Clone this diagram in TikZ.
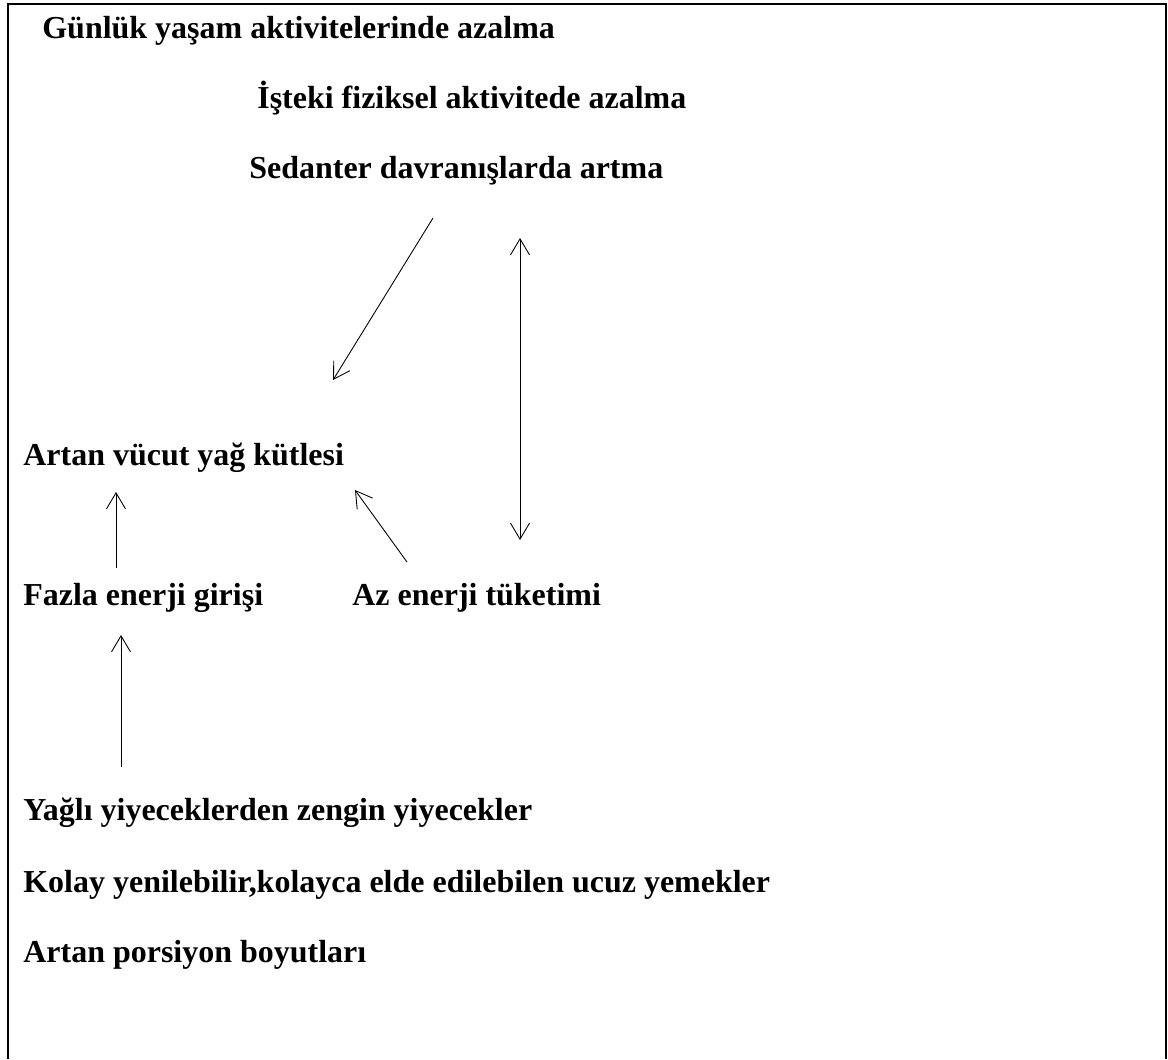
\documentclass[tikz,border=0pt]{standalone}
\usepackage{fontspec}
\setmainfont{Liberation Serif}
\usepackage{tikz}
\usetikzlibrary{arrows.meta}
\tikzset{
x=0.02cm, y=-0.02cm, % one unit is one pixel of the scan, y goes down
every node/.style={inner sep=0pt, anchor=base west}, % texts sit on their baseline
txt/.style={font=\bfseries\fontsize{18.2pt}{22pt}\selectfont}, % bold serif labels
arr/.style={line width=0.5pt, -{Straight Barb[length=3.2mm, width=3.8mm]}}, % thin open arrows
twoway/.style={arr, {Straight Barb[length=3.2mm, width=3.8mm]}-{Straight Barb[length=3.2mm, width=3.8mm]}}, % arrow at both ends
frame/.style={line width=0.8pt}, % page border
}

\begin{document}
\begin{tikzpicture}
                \useasboundingbox (0,0) rectangle (1168,1059);
                \draw[frame] (8,1059) |- (1166,4) -- (1166,1059);
                \node[txt] (gun) at (42,38) {Günlük yaşam aktivitelerinde azalma};
                \node[txt] (ist) at (257,108) {İşteki fiziksel aktivitede azalma};
                \node[txt] (sed) at (249,178) {Sedanter davranışlarda artma};
                \node[txt] (art) at (23,465) {Artan vücut yağ kütlesi};
                \node[txt] (faz) at (23,605) {Fazla enerji girişi};
                \node[txt] (az) at (352,605) {Az enerji tüketimi};
                \node[txt] (yag) at (23,820) {Yağlı yiyeceklerden zengin yiyecekler};
                \node[txt] (kol) at (23,892) {Kolay yenilebilir,kolayca elde edilebilen ucuz yemekler};
                \node[txt] (por) at (23,962) {Artan porsiyon boyutları};
                \draw[arr] ([shift={(184,40)}]sed.base west) -- ([shift={(310,-85)}]art.base west);
                \draw[twoway] ([shift={(271,60)}]sed.base west) -- ([shift={(168,-65)}]az.base west);
                \draw[arr] ([shift={(55,-43)}]az.base west) -- ([shift={(332,25)}]art.base west);
                \draw[arr] ([shift={(93,-37)}]faz.base west) -- ([shift={(93,27)}]art.base west);
                \draw[arr] ([shift={(98,-53)}]yag.base west) -- ([shift={(98,30)}]faz.base west);
\end{tikzpicture}
\end{document}
